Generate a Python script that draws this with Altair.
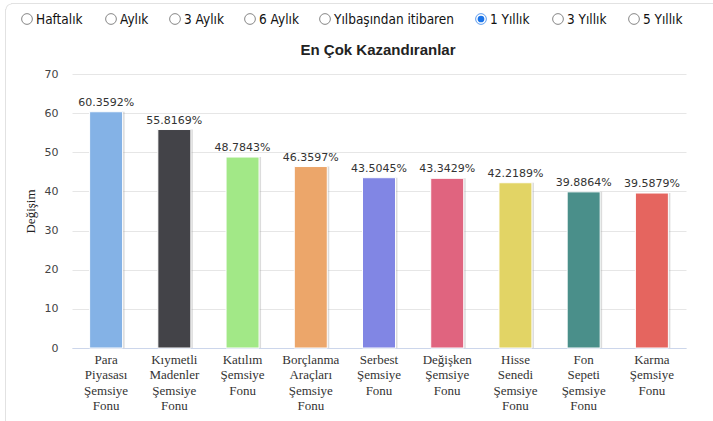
import altair as alt
import pandas as pd

# Fund categories and their 1-year change (%)
funds = [
    "Para Piyasası Şemsiye Fonu",
    "Kıymetli Madenler Şemsiye Fonu",
    "Katılım Şemsiye Fonu",
    "Borçlanma Araçları Şemsiye Fonu",
    "Serbest Şemsiye Fonu",
    "Değişken Şemsiye Fonu",
    "Hisse Senedi Şemsiye Fonu",
    "Fon Sepeti Şemsiye Fonu",
    "Karma Şemsiye Fonu",
]
changes = [60.3592, 55.8169, 48.7843, 46.3597, 43.5045, 43.3429, 42.2189, 39.8864, 39.5879]
colors = ["#84b2e6", "#434348", "#a2e887", "#eca66a", "#8186e4",
          "#e0647f", "#e2d465", "#4a8f8a", "#e5655f"]

# Period selector options shown above the chart
periods = ["Haftalık", "Aylık", "3 Aylık", "6 Aylık", "Yılbaşından itibaren",
           "1 Yıllık", "3 Yıllık", "5 Yıllık"]
selected_period = "1 Yıllık"
chart_title = "En Çok Kazandıranlar"

df = pd.DataFrame({
    "fon": funds,
    "degisim": changes,
    "etiket": [f"{v:.4f}%" for v in changes],
})

PLOT_W, PLOT_H = 614, 274
PAD_L, PAD_T = 72, 74

x_enc = alt.X(
    "fon:N", sort=funds, title=None,
    scale=alt.Scale(paddingInner=0.5, paddingOuter=0.25),
    axis=alt.Axis(
        labelAngle=0, labelExpr="split(datum.label, ' ')",
        labelFont="Liberation Serif", labelFontSize=13, labelColor="#333333",
        labelLineHeight=15.5, labelPadding=5, ticks=False,
        domainColor="#ccd6eb", domainWidth=1, grid=False,
    ),
)
y_enc = alt.Y(
    "degisim:Q", scale=alt.Scale(domain=[0, 70], nice=False), title="Değişim",
    axis=alt.Axis(
        values=[0, 10, 20, 30, 40, 50, 60, 70], grid=True, gridColor="#e6e6e6",
        domain=False, ticks=False, labelOverlap=False,
        labelFont="DejaVu Sans", labelFontSize=11, labelColor="#444444",
        labelPadding=14,
        titleFont="Liberation Serif", titleFontSize=13, titleFontWeight="normal",
        titleColor="#222222", titlePadding=7,
    ),
)

base = alt.Chart(df).encode(x=x_enc, y=y_enc)

shadow = base.mark_bar(size=33, xOffset=2, color="#9a9a9a", opacity=0.35)

bars = base.mark_bar(size=33, stroke="white", strokeWidth=1).encode(
    color=alt.Color("fon:N", sort=funds,
                    scale=alt.Scale(domain=funds, range=colors), legend=None),
)

labels = base.mark_text(
    baseline="bottom", dy=-4, font="DejaVu Sans", fontSize=11, color="#333333"
).encode(text="etiket:N")

one = pd.DataFrame({"k": [0]})

# Card outline (left and top edges) around the widget
card_left = alt.Chart(one).mark_rule(color="#e2e2e2", strokeWidth=1).encode(
    x=alt.value(5.5 - PAD_L), y=alt.value(9 - PAD_T), y2=alt.value(421 - PAD_T)
)
card_top = alt.Chart(one).mark_rule(color="#e2e2e2", strokeWidth=1).encode(
    x=alt.value(11 - PAD_L), x2=alt.value(713 - PAD_L), y=alt.value(3.5 - PAD_T)
)
card_corner = alt.Chart(one).mark_arc(
    radius=6, radius2=5, theta=4.71, theta2=6.28, color="#e2e2e2"
).encode(x=alt.value(11.5 - PAD_L), y=alt.value(9.5 - PAD_T))

title_text = alt.Chart(pd.DataFrame({"t": [chart_title]})).mark_text(
    font="Liberation Sans", fontSize=15, fontWeight="bold", color="#222222",
    align="center", baseline="middle",
).encode(x=alt.value(PLOT_W / 2 - 1), y=alt.value(50 - PAD_T), text="t:N")

# Radio button row
radio_cx = [27, 111, 175, 250, 325, 481, 558, 634]
radio_layers = []
for name, cx in zip(periods, radio_cx):
    d = pd.DataFrame({"t": [name]})
    is_sel = name == selected_period
    circ = alt.Chart(d).mark_point(
        shape="circle", size=115, filled=False,
        stroke="#1a73e8" if is_sel else "#555555", strokeWidth=1,
    ).encode(x=alt.value(cx - PAD_L), y=alt.value(19 - PAD_T))
    radio_layers.append(circ)
    if is_sel:
        dot = alt.Chart(d).mark_point(
            shape="circle", size=45, filled=True, color="#1a73e8", opacity=1
        ).encode(x=alt.value(cx - PAD_L), y=alt.value(19 - PAD_T))
        radio_layers.append(dot)
    txt = alt.Chart(d).mark_text(
        align="left", baseline="middle", font="DejaVu Sans Condensed",
        fontSize=13.5, color="#111111",
    ).encode(x=alt.value(cx + 9 - PAD_L), y=alt.value(20 - PAD_T), text="t:N")
    radio_layers.append(txt)

chart = alt.layer(
    card_left, card_top, card_corner, shadow, bars, labels, title_text, *radio_layers
).properties(
    width=PLOT_W, height=PLOT_H,
    background="white",
    autosize=alt.AutoSizeParams(type="none"),
    padding={"left": PAD_L, "top": PAD_T, "right": 713 - PAD_L - PLOT_W,
             "bottom": 421 - PAD_T - PLOT_H},
).configure_view(stroke=None)

chart.save("out.html", embed_options={"renderer": "svg", "actions": False})
